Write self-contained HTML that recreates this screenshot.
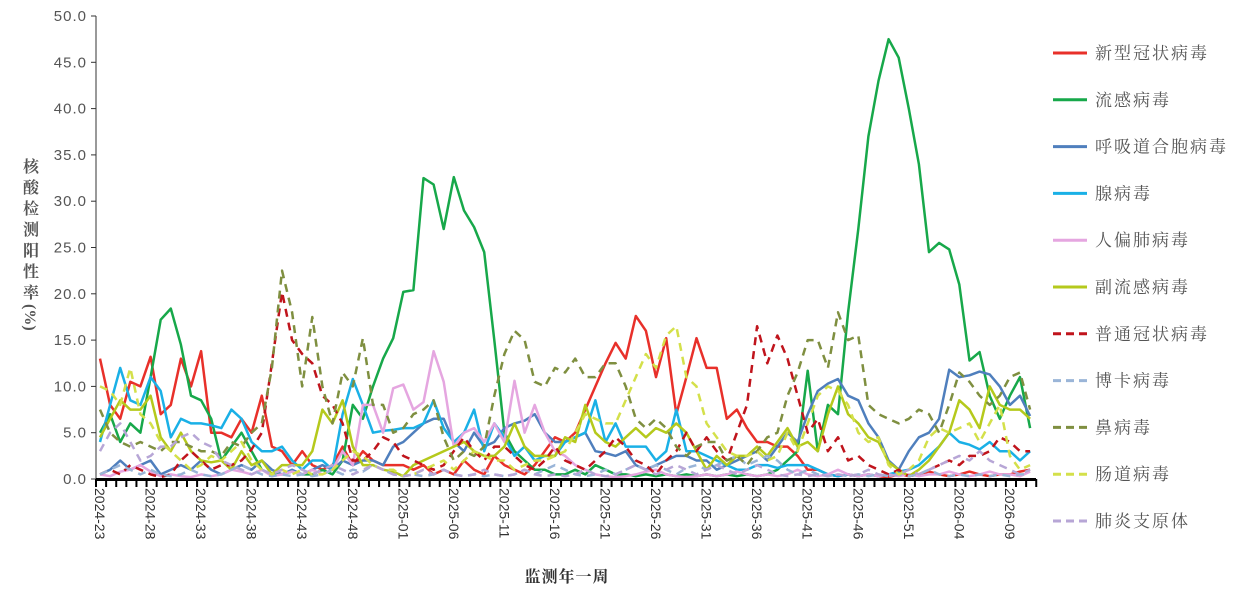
<!DOCTYPE html>
<html><head><meta charset="utf-8"><style>
body{margin:0;background:#fff;width:1247px;height:606px;overflow:hidden}
svg text{font-family:"Liberation Sans","Noto Serif CJK SC",serif}
.cj{font-family:"Liberation Serif","Noto Serif CJK SC",serif}
</style></head><body>
<svg id="c" width="1247" height="606" xmlns="http://www.w3.org/2000/svg"></svg>
<script>
const S=[
["新型冠状病毒","#e8302a",0,[13,8,6.5,10.5,10,13.2,7,8,13,10,13.8,5,5,4.5,6.5,5,9,3.5,3,1.5,3,1.5,1,1.5,3.5,1.5,3,2,1.5,1.5,1.5,1,1.5,0.5,1,0.5,2,1,0.5,2.5,1.5,1,0.5,1.5,3,4.5,4,5,7.5,10,12.5,14.7,13,17.6,16,11,15.2,7,11,15.2,12,12,6.5,7.5,5.5,4,4,3.5,3.5,2.5,1,1,0.5,0.3,0.5,0.3,0.5,0.3,0.2,0.5,0.3,0.5,0.8,0.5,0.3,0.5,0.8,0.5,0.3,0.5,0.5,0.8,1]],
["流感病毒","#17a84a",0,[5,7,4,6,5,11,17.2,18.4,14.5,9,8.5,6.5,2,3.5,5,3,1,0.5,0.5,0.8,0.5,0.5,1,0.5,2,8,6.5,10,13,15.2,20.2,20.4,32.5,31.8,27,32.6,29,27.2,24.5,15,5,3,2,1,1,0.5,0.5,1,0.5,1.5,1,0.5,0.5,0.3,0.5,0.3,0.5,0.3,0.5,0.3,0.5,0.3,0.5,0.3,0.5,0.3,0.5,1,2,3,11.7,3,8,7,18,27,37,43,47.5,45.5,40,34,24.5,25.5,24.8,21,12.8,13.7,9,6.5,9,11,5.5]],
["呼吸道合胞病毒","#4f7fbd",0,[0.5,1,2,1,1.5,2,0.5,1,1.5,1,2,1,0.5,1,1.5,1,2,1,0.5,1,0.5,1,1.5,1,2,1.5,2,2,1.5,3.5,4,5,6,6.5,6.5,4,3,5,3.5,4,5.5,6,6.3,7,5,4,4,4.5,5,3,2.8,2.5,3,1.5,1,1.5,2,2.5,2.5,2,2,1,1.5,2,2.5,3,2,3.5,5,4,7,9.5,10.3,10.8,9,8.5,6,4.5,2,1,3,4.5,5,6.5,11.8,11,11.2,11.6,11.3,10,8,9,6.8]],
["腺病毒","#1ab0e6",0,[4,8,12,8.5,8,11,9.5,4.5,6.5,6,6,5.8,5.5,7.5,6.5,4,3,3,3.5,2,1,2,2,1,7,10.8,8,5,5.2,5.3,5.5,5.5,6,8.5,5.5,4,5,7.5,3,6,4.5,2.5,3.5,2,2.5,2.5,4,4.5,5,8.5,4,6,3.5,3.5,3.5,2,3,7.5,3,3,2.5,2,1.5,1,1,1.5,1.5,1.2,1.5,1.5,1.5,1,0.5,0.3,0.5,0.3,0.5,0.3,0.5,0.8,1,1.5,2.5,3.5,5,4,3.7,3.2,4,3,3,2,3]],
["人偏肺病毒","#e5a6e0",0,[0.5,0.3,0.8,1,1.5,0.8,0.3,0.5,0.3,0.2,0.5,0.3,0.5,1,0.8,0.5,1,0.3,0.5,0.8,0.5,1,0.5,1,3,1.5,8,8,5,9.8,10.2,7.5,8.3,13.8,10.5,3.5,5,5.5,4,6,4,10.6,5,8,5,3,2.5,1.5,1,0.5,0.3,0.2,0.3,0.5,0.8,1,0.5,0.3,0.2,0.3,0.5,0.3,0.5,0.8,0.5,0.3,0.5,0.3,0.5,1,0.5,0.3,0.5,1,0.5,0.3,0.5,0.3,0.5,0.3,0.5,0.3,0.5,0.5,0.8,0.5,0.3,0.5,0.8,0.5,0.5,0.3,0.8]],
["副流感病毒","#b5c91c",0,[4.5,6.5,8.5,7.5,7.5,9,4.5,3,5,3,2,1.8,2,1,3,1.5,2,0.5,1.5,1.5,1.5,3,7.5,6,8.5,3.5,1.5,1.5,1,0.8,0.3,1.5,2,2.5,3,3.5,4,3,2.5,2.5,3.5,6,3.5,2.5,2.5,2.5,4.5,4,8,5,4,3.5,4.5,5.5,4.5,5.5,5,6,5,3,1,2.5,1.5,2.5,2.5,3.5,2.5,4,5.5,3.5,4,3,7,10,7,6,4.5,4,1.8,1,0.3,1,2,3.5,5,8.5,7.5,5.5,10,8,7.5,7.5,6.5]],
["普通冠状病毒","#c0141c",1,[0.5,1,0.5,1.5,1,0.5,0.2,0.5,2,3,2,1,1.5,1.5,2,3.2,5,12.5,20.2,15,13.5,12.5,9,8,6,2,2,3,4.5,4,2.5,2,1.5,1,1.5,3,4.5,3,2,3.5,3.5,2.5,1.5,1,2,3.5,2,1.5,1,2,3,4.5,3.5,2,1.5,0.5,2,3,5,3,4.5,3,2,5,8,16.5,12.5,15.5,13,9,5,6.5,3,4.5,2,2.5,1.5,1,0.5,1,0.3,0.5,1,1.5,2,1.5,2.5,2.5,3,4.5,4,3,3]],
["博卡病毒","#9ab5d8",1,[0.5,1,1.5,1,0.5,1,0.5,0.3,0.5,1,0.5,0.3,0.5,1,1.5,1,0.5,0.3,0.5,0.3,0.5,0.3,0.5,1,0.5,1,0.8,1.5,1,0.5,0.3,0.5,0.3,0.5,1,0.5,0.3,0.5,0.3,0.5,0.3,0.5,1,0.5,1,1.5,1,0.5,0.3,0.5,1,0.5,1,1.5,1,1.5,1,0.5,1.2,1.5,1,1.5,2,2.5,1.5,2,2.5,2,1,0.5,1,0.5,0.3,0.5,0.3,0.5,0.3,0.5,0.3,0.5,0.3,0.5,1,0.5,0.3,0.5,0.3,0.5,0.3,0.5,0.3,0.5,0.5]],
["鼻病毒","#7f8f40",1,[7.5,5,4,3.5,4,3.5,3,4,4,3.5,3,3,2.5,4,3.5,5,6,12,22.5,18,10,17.5,10,6,11.5,10,15.2,8,8,5,5.5,7,7.5,8.5,4.5,2,3,2.5,3.5,9,13.5,16,15,10.5,10,12,11.5,13,11,11,12.5,12.5,10,6.5,5.5,6.5,5.5,3.5,2.5,3.5,4,4,2,2.5,1.5,3,4.5,5,9,11.5,15,15,12,18,15,15.5,8,7,6.5,6,6.5,7.5,7,5,8,11.5,10.5,9,8,9,11,11.5,7.5]],
["肠道病毒","#d4e04a",1,[10,9.5,8,12,7,6,4,3,2,1,1.5,2.5,2,3,4,2,1,0.5,1,0.5,1,0.5,0.5,1,2,3,2.5,1.5,1,1,0.3,0.5,1,1.5,2,1,2,3,2.5,2,2,1,1.5,2,2,2.5,3,5,7,6.5,6,6,8.5,11,13.5,12,15.5,16.5,11,10,6,4.5,3,2.5,2.5,3,2,2.5,5,3,6,9,10,9.5,8,5,4,4.5,1.5,0.5,1,2,4.5,5.5,5,5.5,6,4,6,8,2.5,1,1.5]],
["肺炎支原体","#b7a6d6",1,[3,5,6,4,2,2.5,3.5,3.5,4.5,5,4,3.5,2,1.5,1,0.5,1,0.5,1,1.5,1,0.5,1,1.5,1,0.5,1,1.5,1,0.5,0.3,0.5,1,0.5,1,0.5,0.3,0.5,1,0.5,0.3,0.5,1,0.5,0.3,0.5,0.3,0.5,1,0.5,0.3,0.5,1,1.5,1,0.5,1,1.5,1,0.5,1,1.5,1,0.5,1,1.5,1,0.5,0.3,0.5,0.3,0.5,0.3,0.5,0.3,0.5,1,0.5,0.3,0.5,1,0.5,1,1.5,2,2.5,2,3,2,1.5,1,0.5,1]]
];
const X=i=>100+10.11*i, Y=v=>479-9.26*v;
let h='';
h+='<line x1="96" y1="16" x2="96" y2="479" stroke="#333" stroke-width="1"/>';
for(let k=0;k<=10;k++){const y=Y(k*5);h+=`<line x1="91" y1="${y}" x2="96" y2="${y}" stroke="#333"/><text x="87" y="${y+5}" text-anchor="end" font-size="15" fill="#555" letter-spacing="1">${(k*5).toFixed(1)}</text>`;}
S.forEach(s=>{const p=s[3].map((v,i)=>X(i).toFixed(1)+','+Y(v).toFixed(1)).join(' ');
h+=`<polyline points="${p}" fill="none" stroke="${s[1]}" stroke-width="2.5" ${s[2]?'stroke-dasharray="8,6"':''} stroke-linejoin="round"/>`;});
h+='<line x1="96" y1="479.5" x2="1036" y2="479.5" stroke="#000" stroke-width="3"/>';
for(let i=0;i<=93;i++){const x=96+10.11*i;h+=`<line x1="${x}" y1="479" x2="${x}" y2="487" stroke="#000" stroke-width="2"/>`;}
const L=["2024-23","2024-28","2024-33","2024-38","2024-43","2024-48","2025-01","2025-06","2025-11","2025-16","2025-21","2025-26","2025-31","2025-36","2025-41","2025-46","2025-51","2026-04","2026-09"];
L.forEach((t,k)=>{const x=X(k*5)-5;h+=`<text transform="translate(${x},488) rotate(90)" font-size="14" fill="#333">${t}</text>`;});
h+='<text class="cj" x="567" y="582" text-anchor="middle" font-size="16" font-weight="bold" fill="#333" letter-spacing="1">监测年一周</text>';
const yt="核酸检测阳性率";[...yt].forEach((c,k)=>{h+=`<text class="cj" x="31" y="${172+k*21}" text-anchor="middle" font-size="16" font-weight="bold" fill="#555">${c}</text>`;});
h+='<text class="cj" transform="translate(25,304) rotate(90)" font-size="16" font-weight="bold" fill="#555">(%)</text>';
S.forEach((s,k)=>{const y=53+k*46.8;h+=`<line x1="1053" y1="${y}" x2="1087" y2="${y}" stroke="${s[1]}" stroke-width="3" ${s[2]?'stroke-dasharray="8,5"':''}/><text class="cj" x="1095" y="${y+6}" font-size="17" fill="#555" letter-spacing="2">${s[0]}</text>`;});
document.getElementById('c').innerHTML=h;
</script>
</body></html>
